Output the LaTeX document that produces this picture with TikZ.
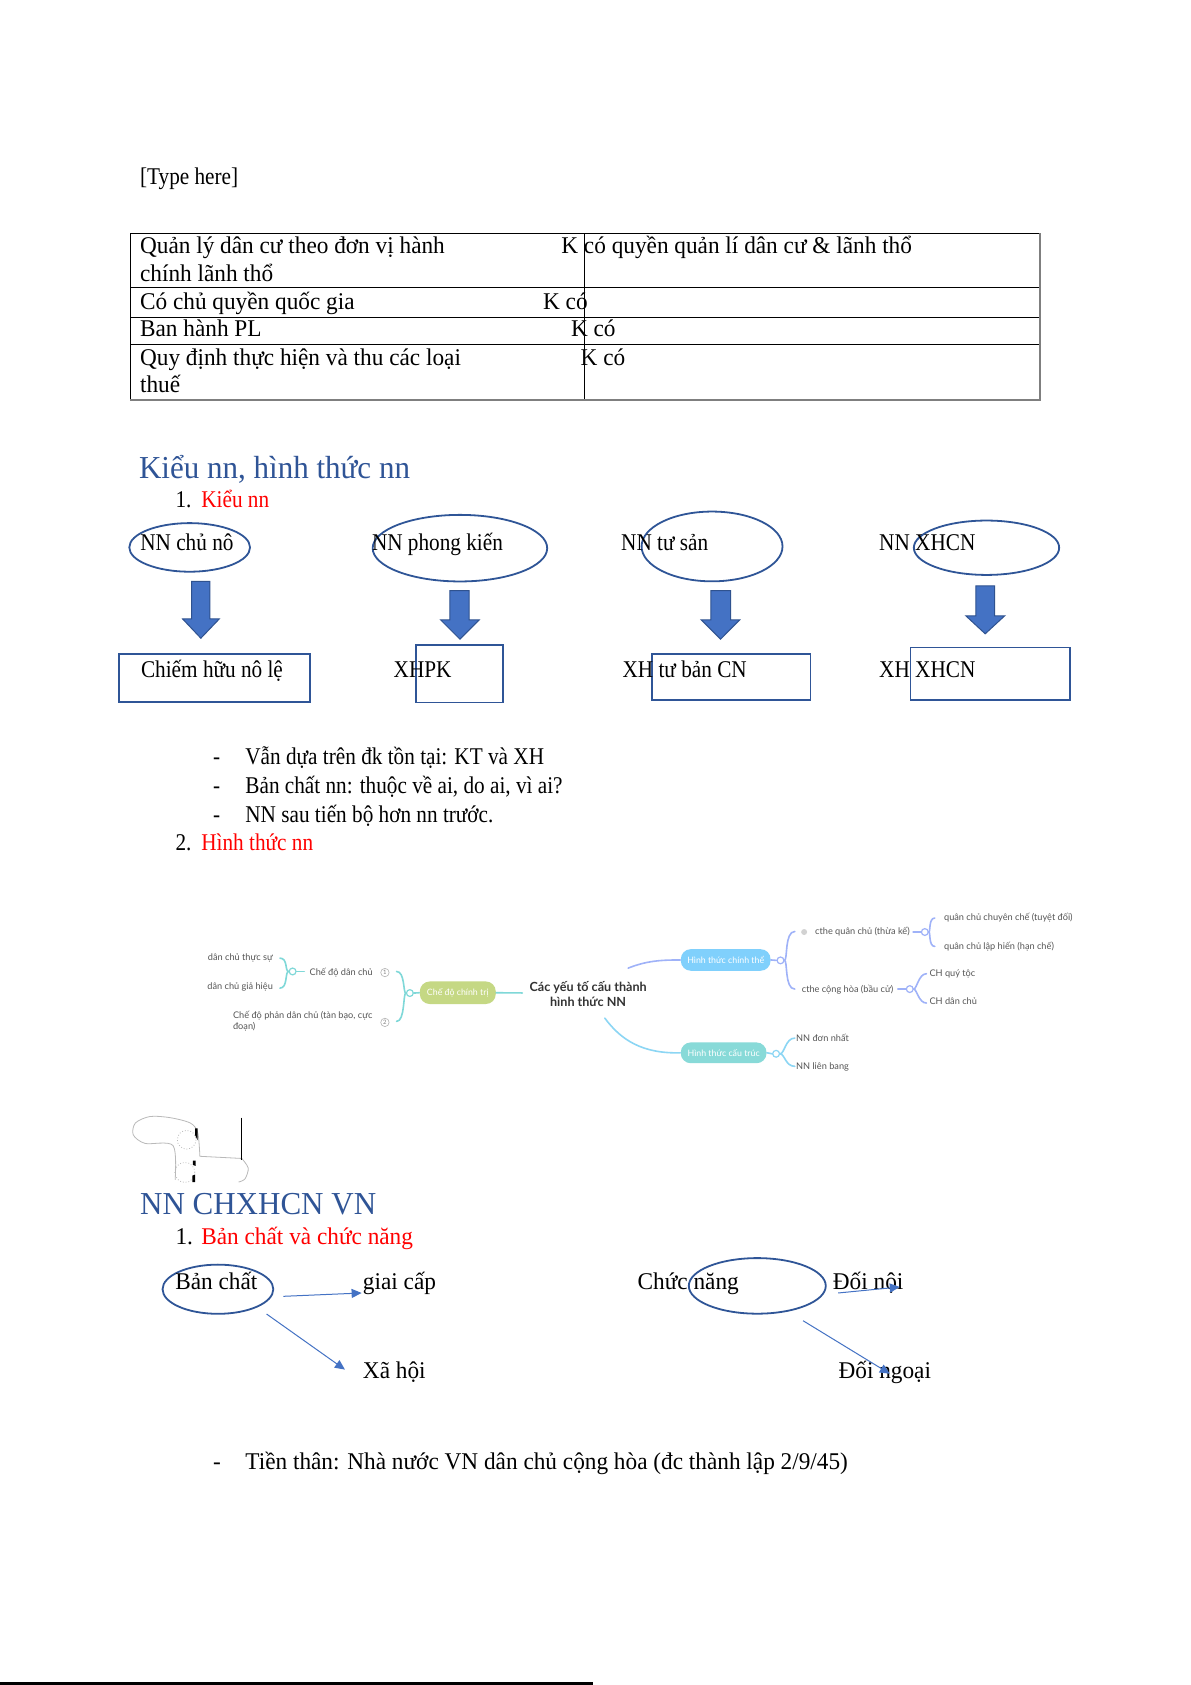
\documentclass[tikz,border=0pt]{standalone}
\usepackage{fontspec}
\setmainfont{Liberation Serif}
\newfontfamily\narrowA{Liberation Serif}[FakeStretch=0.97]
\newfontfamily\narrowB{Liberation Serif}[FakeStretch=0.885]
\newfontfamily\mmfont{Lato}
\usetikzlibrary{shapes.geometric,arrows.meta}
\definecolor{hblue}{HTML}{2F5496}
\definecolor{oblue}{HTML}{2F5597}
\definecolor{afill}{HTML}{4472C4}
\definecolor{aline}{HTML}{2F528F}
\definecolor{mmcyan}{HTML}{7FD8D8}
\definecolor{mmlav}{HTML}{9FB2F8}
\definecolor{mmsky}{HTML}{8CD6F4}
\definecolor{pgreen}{HTML}{C5D884}
\definecolor{pblue}{HTML}{80D0FC}
\definecolor{pteal}{HTML}{88DAD8}
\definecolor{mmtext}{HTML}{555555}
\definecolor{gborder}{HTML}{7F7F7F}
\tikzset{
  txt/.style={anchor=base west, inner sep=0pt, font=\narrowA\fontsize{12}{14}\selectfont},
  txtn/.style={anchor=base west, inner sep=0pt, font=\narrowB\fontsize{12}{14}\selectfont},
  head/.style={anchor=base west, inner sep=0pt, font=\narrowA\fontsize{16}{19}\selectfont, text=hblue},
  oval/.style={ellipse, draw=oblue, line width=0.9pt, inner sep=0pt},
  tbox/.style={rectangle, draw=oblue, line width=0.9pt, inner sep=0pt},
  barrow/.style={fill=afill, draw=aline, line width=0.5pt, line join=miter},
  thinarr/.style={draw=afill, line width=0.5pt, -{Triangle[length=5pt,width=4.5pt]}},
  mm/.style={anchor=base west, inner sep=0pt, font=\mmfont\fontsize{4.6}{5.6}\selectfont, text=mmtext},
  mmr/.style={anchor=base east, inner sep=0pt, font=\mmfont\fontsize{4.6}{5.6}\selectfont, text=mmtext},
  mmc/.style={inner sep=0pt, align=center, font=\mmfont\bfseries\fontsize{6.3}{7.3}\selectfont, text=black!80},
  pill/.style={rectangle, rounded corners=5pt, inner sep=0pt, text=white, font=\mmfont\fontsize{4.4}{5}\selectfont},
  dot/.style={circle, fill=white, line width=0.6pt, inner sep=0pt, minimum size=3.4pt},
  numc/.style={circle, draw=gray!60, line width=0.3pt, inner sep=0pt, minimum size=4.2pt, text=gray, font=\mmfont\fontsize{3}{3}\selectfont},
  icon/.style={circle, fill=gray!35, inner sep=0pt, minimum size=3pt},
  mml/.style={line width=0.8pt, line cap=round},
  scrib/.style={draw=gray!55, line width=0.4pt}
}
\begin{document}
\begin{tikzpicture}[x=0.5375pt,y=-0.5375pt]
\useasboundingbox (0,0) rectangle (1108,1568);
\fill[white] (0,0) rectangle (1108,1568);

% header
\node[txtn] (typehere) at (130,172) {[Type here]};

% table
\draw[line width=0.5pt] (121,372) -- (121,217) -- (968,217);
\draw[line width=0.5pt] (121,268) -- (968,268);
\draw[line width=0.5pt] (121,295) -- (968,295);
\draw[line width=0.5pt] (121,321) -- (968,321);
\draw[line width=0.5pt] (544,217) -- (544,372);
\draw[gborder, line width=0.9pt] (121,372) -- (968,372) -- (968,217);

\node[txt] (r1a) at (130,236) {Quản lý dân cư theo đơn vị hành};
\node[txt] (r1b) at (130,262) {chính lãnh thổ};
\node[txt] (r1c) at (522,236) {K có quyền quản lí dân cư \& lãnh thổ};
\node[txt] (r2a) at (130,288) {Có chủ quyền quốc gia};
\node[txt] (r2c) at (505,288) {K có};
\node[txt] (r3a) at (130,313) {Ban hành PL};
\node[txt] (r3c) at (531,313) {K có};
\node[txt] (r4a) at (130,340) {Quy định thực hiện và thu các loại};
\node[txt] (r4b) at (130,365) {thuế};
\node[txt] (r4c) at (540,340) {K có};

% section: Kieu nn
\node[head] (h1) at (129,445) {Kiểu nn, hình thức nn};
\node[txtn] (n1) at (163,472) {1.};
\node[txtn, text=red] (k1) at (187,472) {Kiểu nn};

\node[oval, minimum width=60.4pt, minimum height=24.3pt] (o1) at (176.5,509.4) {};
\node[oval, minimum width=87.3pt, minimum height=33.3pt] (o2) at (428,510.1) {};
\node[oval, minimum width=70.5pt, minimum height=34.9pt] (o3) at (662.6,508.5) {};
\node[oval, minimum width=72.7pt, minimum height=27.2pt] (o4) at (918,509.7) {};
\node[txtn] (to1) at (130.2,512.5) {NN chủ nô};
\node[txtn] (to2) at (345.8,512.5) {NN phong kiến};
\node[txtn] (to3) at (577.7,512.5) {NN tư sản};
\node[txtn] (to4) at (817.8,512.5) {NN XHCN};

% block arrows
\draw[barrow] (178.3,541) -- (195.4,541) -- (195.4,576) -- (204,576) -- (186.9,593.9) -- (170,576) -- (178.3,576) -- cycle;
\draw[barrow] (418.6,549.5) -- (436.6,549.5) -- (436.6,576.8) -- (446,576.8) -- (428,594.8) -- (410,576.8) -- (418.6,576.8) -- cycle;
\draw[barrow] (661.5,549.5) -- (679.8,549.5) -- (679.8,576.8) -- (688.4,576.8) -- (670.5,594.8) -- (652.5,576.8) -- (661.5,576.8) -- cycle;
\draw[barrow] (908,545.2) -- (925.6,545.2) -- (925.6,573) -- (935,573) -- (916.8,589.8) -- (898.7,573) -- (908,573) -- cycle;

\node[tbox, minimum width=95.4pt, minimum height=24.3pt] (b1) at (199.7,631) {};
\node[tbox, minimum width=43.7pt, minimum height=28.9pt] (b2) at (427.7,626.9) {};
\node[tbox, minimum width=79.5pt, minimum height=22.8pt] (b3) at (680.3,630) {};
\node[tbox, minimum width=79.7pt, minimum height=26.2pt] (b4) at (921.4,626.9) {};
\node[txtn] (tb1) at (130.9,630.5) {Chiếm hữu nô lệ};
\node[txtn] (tb2) at (366,630.5) {XHPK};
\node[txtn] (tb3) at (579,630.5) {XH tư bản CN};
\node[txtn] (tb4) at (817.8,630.5) {XH XHCN};

% bullets
\node[txtn] (d1) at (198,711) {-};
\node[txtn] (l1) at (228,711) {Vẫn dựa trên đk tồn tại: KT và XH};
\node[txtn] (d2) at (198,738) {-};
\node[txtn] (l2) at (228,738) {Bản chất nn: thuộc về ai, do ai, vì ai?};
\node[txtn] (d3) at (198,765) {-};
\node[txtn] (l3) at (228,765) {NN sau tiến bộ hơn nn trước.};
\node[txtn] (n2) at (163,791) {2.};
\node[txtn, text=red] (k2) at (187,791) {Hình thức nn};

% mind map
\node[mmc] (mmcenter) at (547.3,925) {Các yếu tố cấu thành\\hình thức NN};
\node[pill, fill=pgreen, minimum width=38pt, minimum height=11.3pt] (p1) at (426,923.8) {Chế độ chính trị};
\node[pill, fill=pblue, minimum width=44.9pt, minimum height=10.8pt] (p2) at (675.3,893.3) {Hình thức chính thể};
\node[pill, fill=pteal, minimum width=42.9pt, minimum height=10.4pt] (p3) at (673.4,979.7) {Hình thức cấu trúc};

\node[dot, draw=mmcyan] (c1) at (381.4,924.1) {};
\node[dot, draw=mmcyan] (c2) at (272.3,904) {};
\node[dot, draw=mmlav] (c3) at (726.3,893.7) {};
\node[dot, draw=mmlav] (c4) at (860.6,867.3) {};
\node[dot, draw=mmlav] (c5) at (846.6,920.4) {};
\node[dot, draw=mmsky] (c6) at (722.2,980.6) {};

\node[mmr] (t1) at (254.3,894) {dân chủ thực sự};
\node[mmr] (t2) at (254.3,920.4) {dân chủ giả hiệu};
\node[mm] (t3) at (287.8,908) {Chế độ dân chủ};
\node[mm] (t4) at (216.5,947.4) {Chế độ phản dân chủ (tàn bạo, cực};
\node[mm] (t4b) at (216.5,958.2) {đoạn)};
\node[numc] (q1) at (358.2,905) {1};
\node[numc] (q2) at (358.2,951.4) {2};

\node[icon] (ic) at (748.3,867.3) {};
\node[mm] (t5) at (758.2,869.8) {cthe quân chủ (thừa kế)};
\node[mm] (t6) at (878.2,856.5) {quân chủ chuyên chế (tuyệt đối)};
\node[mm] (t7) at (878.2,883.2) {quân chủ lập hiến (hạn chế)};
\node[mm] (t8) at (745.8,923.5) {cthe cộng hòa (bầu cử)};
\node[mm] (t9) at (864.6,908.6) {CH quý tộc};
\node[mm] (t10) at (864.6,935) {CH dân chủ};
\node[mm] (t11) at (740.5,969) {NN đơn nhất};
\node[mm] (t12) at (740.5,995.5) {NN liên bang};

\coordinate (s1) at (584.5,900.9);
\coordinate (s2) at (562.8,947.4);
\coordinate (e1) at (369,904);
\coordinate (e2) at (369,950.5);
\coordinate (e3) at (260.5,891.6);
\coordinate (e4) at (260.5,919.5);

% left branch
\draw[mml, mmcyan] (p1.east) -- (486,924);
\draw[mml, mmcyan] (c1.east) -- (p1.west);
\draw[mml, mmcyan] (c1.west) .. controls (375,924.1) and (377,904) .. (e1);
\draw[mml, mmcyan] (c1.west) .. controls (375,924.1) and (377,950.5) .. (e2);
\draw[mml, mmcyan] (c2.east) -- ([xshift=-2.5pt]t3.west |- c2.east);
\draw[mml, mmcyan] (c2.west) .. controls (265,904) and (268,891.6) .. (e3);
\draw[mml, mmcyan] (c2.west) .. controls (265,904) and (268,919.5) .. (e4);

% upper right branch
\draw[mml, mmlav] (s1) .. controls (602,894) and (615,893.3) .. (p2.west);
\draw[mml, mmlav] (p2.east) -- (c3.west);
\draw[mml, mmlav] (c3.east) .. controls (733,893.7) and (730,866.8) .. (739.6,866.8);
\draw[mml, mmlav] (c3.east) .. controls (733,893.7) and (730,920.4) .. (739.6,920.4);
\draw[mml, mmlav] (849.7,867.3) -- (c4.west);
\draw[mml, mmlav] (c4.east) .. controls (866,867.3) and (864,854.3) .. (869.9,854.3);
\draw[mml, mmlav] (c4.east) .. controls (866,867.3) and (864,880.7) .. (869.9,880.7);
\draw[mml, mmlav] (835.5,920.4) -- (c5.west);
\draw[mml, mmlav] (c5.east) .. controls (853,920.4) and (855,906.1) .. (862.1,906.1);
\draw[mml, mmlav] (c5.east) .. controls (853,920.4) and (855,933.4) .. (862.1,933.4);

% lower right branch
\draw[mml, mmsky] (s2) .. controls (578,968) and (598,980.6) .. (p3.west);
\draw[mml, mmsky] (p3.east) -- (c6.west);
\draw[mml, mmsky] (c6.east) .. controls (730,980.6) and (731,966) .. (739.6,966);
\draw[mml, mmsky] (c6.east) .. controls (730,980.6) and (731,992.3) .. (739.6,992.3);

% scribble
\draw[scrib] plot[smooth] coordinates {(163,1098) (161,1066) (135,1064) (124,1056) (126,1045) (139.5,1039) (158,1040) (177,1045) (184,1054) (186,1076)};
\draw[scrib] (186,1076) -- (225,1078);
\draw[scrib] plot[smooth] coordinates {(225,1078) (231,1087) (228,1097) (222,1100)};
\draw[scrib, densely dotted] (173.7,1060.6) circle[radius=8.7];
\draw[scrib, densely dotted] (172,1091) circle[radius=9.3];
\fill (181.5,1050) -- (183.8,1050) -- (183.8,1061) -- (181.5,1056) -- cycle;
\fill (179.5,1080) -- (182,1080) -- (182,1085) -- (179.5,1084) -- cycle;
\fill (179,1094) -- (181.5,1093) -- (181.5,1100) -- (179,1100) -- cycle;
\draw[line width=0.6pt] (225,1040) -- (225,1079);

% NN CHXHCN VN
\node[head] (h2) at (130,1130) {NN CHXHCN VN};
\node[txt] (n3) at (163,1158) {1.};
\node[txt, text=red] (k3) at (187,1158) {Bản chất và chức năng};

\node[oval, minimum width=55.4pt, minimum height=24.6pt] (o5) at (202.8,1199.7) {};
\node[txt] (to5) at (162.8,1199.5) {Bản chất};
\node[txt] (gc) at (337.4,1199.5) {giai cấp};
\node[txt] (xh) at (337.4,1282.4) {Xã hội};
\coordinate (a1s) at (263.6,1206.3);
\coordinate (a1e) at (336.5,1203.2);
\coordinate (a2s) at (248.1,1222.8);
\coordinate (a2e) at (321,1274.5);
\draw[thinarr] (a1s) -- (a1e);
\draw[thinarr] (a2s) -- (a2e);

\node[oval, minimum width=68.5pt, minimum height=27.8pt] (o6) at (704.7,1196.6) {};
\node[txt] (to6) at (593,1199.5) {Chức năng};
\node[txt] (dn) at (774.7,1199.5) {Đối nội};
\node[txt] (dng) at (780,1282.4) {Đối ngoại};
\coordinate (a3s) at (779.9,1203.2);
\coordinate (a3e) at (837.3,1197.6);
\coordinate (a4s) at (747.3,1229);
\coordinate (a4e) at (828,1278.3);
\draw[thinarr] (a3s) -- (a3e);
\draw[thinarr] (a4s) -- (a4e);

\node[txt] (d4) at (198,1367) {-};
\node[txt] (l4) at (228,1367) {Tiền thân: Nhà nước VN dân chủ cộng hòa (đc thành lập 2/9/45)};

% bottom rule
\draw[line width=1.1pt] (0,1566.5) -- (552,1566.5);
\end{tikzpicture}
\end{document}
